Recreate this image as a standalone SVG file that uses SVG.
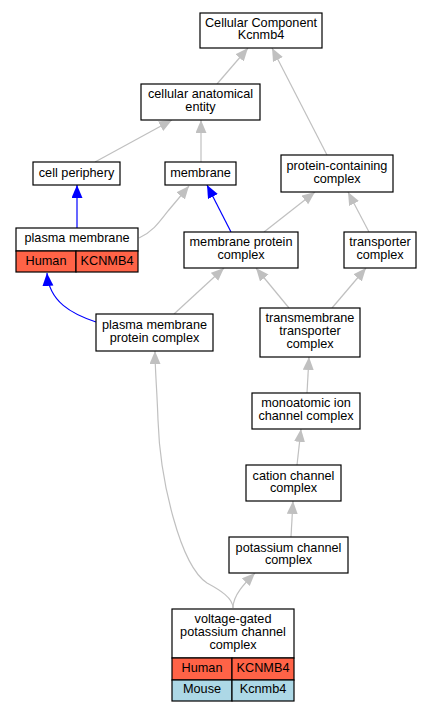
<svg xmlns="http://www.w3.org/2000/svg" width="432" height="712" viewBox="0 0 432 712">
<defs>
<style>
.n{fill:#fff;stroke:#000;stroke-width:1.2}
.h{fill:#ff6347;stroke:#000;stroke-width:1.2}
.m{fill:#add8e6;stroke:#000;stroke-width:1.2}
text{font-family:"Liberation Sans",Arial,sans-serif;font-size:12.7px;fill:#000;text-anchor:middle}
.g{fill:none;stroke:#c0c0c0;stroke-width:1.2}
.b{fill:none;stroke:#0000ff;stroke-width:1.2}
.g{marker-end:url(#ag)}
.b{marker-end:url(#ab)}
</style>
<marker id="ag" markerUnits="userSpaceOnUse" markerWidth="14" markerHeight="12" refX="13" refY="5.5" orient="auto"><path d="M0,0L13,5.5L0,11z" fill="#c0c0c0"/></marker>
<marker id="ab" markerUnits="userSpaceOnUse" markerWidth="14" markerHeight="12" refX="13" refY="5.5" orient="auto"><path d="M0,0L13,5.5L0,11z" fill="#0000ff"/></marker>
</defs>
<rect width="432" height="712" fill="#fff"/>
<g id="edges">
<path class="g" d="M217,84L248,48"/>
<path class="g" d="M327,155L272,48"/>
<path class="g" d="M95,162L172,120"/>
<path class="g" d="M201,162L201,120"/>
<path class="b" d="M77,228L77,185"/>
<path class="g" d="M139,238C152,232 158,224 168,211L189,186"/>
<path class="b" d="M231,232L207,185"/>
<path class="g" d="M264,232L315,192"/>
<path class="g" d="M369,232L348,192"/>
<path class="b" d="M96,322C72,314 49,302 47,273"/>
<path class="g" d="M174,314L224,268"/>
<path class="g" d="M289,308L256,268"/>
<path class="g" d="M332,308L366,268"/>
<path class="g" d="M307,393L309,357"/>
<path class="g" d="M297,465L301,429"/>
<path class="g" d="M291,537L293,501"/>
<path class="g" d="M233,608C233,595 245,583 255,573"/>
<path class="g" d="M233,608C233,598 220,590 207,583C180,565 160,480 158,420C157,390 155,370 155,351"/>
</g>
<g id="cc"><rect class="n" x="200" y="13" width="122" height="35"/><text x="261" y="26.7">Cellular Component</text><text x="261" y="39.3">Kcnmb4</text></g>
<g id="cae"><rect class="n" x="141" y="84" width="119" height="36"/><text x="200.5" y="98.3">cellular anatomical</text><text x="200.5" y="111">entity</text></g>
<g id="cp"><rect class="n" x="33" y="162" width="87" height="23"/><text x="76.5" y="177">cell periphery</text></g>
<g id="mem"><rect class="n" x="165" y="162" width="71" height="23"/><text x="200.5" y="177">membrane</text></g>
<g id="pcc"><rect class="n" x="281" y="155" width="112" height="37"/><text x="337" y="170">protein-containing</text><text x="337" y="182.7">complex</text></g>
<g id="pm"><rect class="n" x="16" y="228" width="122" height="23"/><text x="77" y="242">plasma membrane</text><rect class="h" x="16" y="251" width="60" height="21"/><text x="46" y="264.5">Human</text><rect class="h" x="76" y="251" width="62" height="21"/><text x="107" y="264.5">KCNMB4</text></g>
<g id="mpc"><rect class="n" x="184" y="232" width="114" height="36"/><text x="241" y="246">membrane protein</text><text x="241" y="258.7">complex</text></g>
<g id="tc"><rect class="n" x="344" y="232" width="72" height="36"/><text x="380" y="246">transporter</text><text x="380" y="258.7">complex</text></g>
<g id="pmpc"><rect class="n" x="96" y="314" width="117" height="37"/><text x="154.5" y="329">plasma membrane</text><text x="154.5" y="341.7">protein complex</text></g>
<g id="ttc"><rect class="n" x="260" y="308" width="100" height="49"/><text x="310" y="321.7">transmembrane</text><text x="310" y="335">transporter</text><text x="310" y="348.3">complex</text></g>
<g id="micc"><rect class="n" x="252" y="393" width="108" height="36"/><text x="306" y="407">monoatomic ion</text><text x="306" y="420">channel complex</text></g>
<g id="ccc"><rect class="n" x="246" y="465" width="95" height="36"/><text x="293.5" y="479.5">cation channel</text><text x="293.5" y="492">complex</text></g>
<g id="kcc"><rect class="n" x="229" y="537" width="119" height="36"/><text x="288.5" y="551.5">potassium channel</text><text x="288.5" y="564">complex</text></g>
<g id="vg"><rect class="n" x="172" y="609" width="122" height="49"/><text x="233" y="622.7">voltage-gated</text><text x="233" y="636">potassium channel</text><text x="233" y="649.3">complex</text><rect class="h" x="172" y="658" width="60" height="22"/><text x="202" y="672">Human</text><rect class="h" x="232" y="658" width="62" height="22"/><text x="263" y="672">KCNMB4</text><rect class="m" x="172" y="680" width="60" height="21"/><text x="202" y="693">Mouse</text><rect class="m" x="232" y="680" width="62" height="21"/><text x="263" y="693">Kcnmb4</text></g>
</svg>
